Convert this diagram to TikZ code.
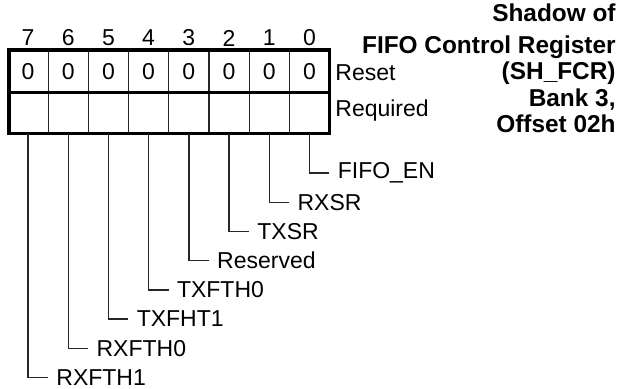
\documentclass[tikz,border=0pt]{standalone}
\usepackage{fontspec}
\setmainfont{Liberation Sans}
\usetikzlibrary{positioning}

\begin{document}
\begin{tikzpicture}[x=0.5pt,y=-0.5pt,
  font=\fontsize{11.5}{13}\selectfont,
  lead/.style={draw=black!85,line width=0.7pt},
  fld/.style={anchor=west,inner sep=4pt},
  frame/.style={line width=1.6pt}]

\useasboundingbox (0,0) rectangle (621,388);

% Bit numbers, reset values and leader feet
\foreach \i in {0,...,7} {
  \coordinate (c\i) at ({309.4-40.2*\i},0);
  \node (n\i) at ({309.4-40.2*\i},38) {\i};
  \node (r\i) at ({309.4-40.2*\i},72) {0};
  \coordinate (b\i) at ({309.4-40.2*\i},133.5);
}

% Cell dividers
\foreach \i in {1,...,7}
  \draw[line width=0.6pt,black!85] ({329.5-40.2*\i},50) -- ({329.5-40.2*\i},133.5);

% Register frame
\draw[frame] (8.9,50) rectangle (329.5,133.5);
\draw[frame] (8.9,92.5) -- (329.5,92.5);

% Row names
\node[fld,inner sep=1pt] (reset) at (333,73) {Reset};
\node[fld,inner sep=1pt] (req) at (333,111) {Required};

% Title
\node[anchor=north east,align=right,inner sep=0pt,font=\fontsize{12.2}{13.3}\selectfont\bfseries]
  (title) at (616,3.5) {Shadow of\\[2.5pt] FIFO Control Register\\(SH\_FCR)\\Bank 3,\\Offset 02h};

% Bit fields
\foreach \i/\txt in {0/FIFO\_EN,1/RXSR,2/TXSR,3/Reserved,4/TXFTH0,5/TXFHT1,6/RXFTH0,7/RXFTH1} {
  \node[fld] (l\i) at ({329.4-40.2*\i},{173+29.2*\i}) {\txt};
  \draw[lead] (b\i) |- (l\i.west);
}

\end{tikzpicture}
\end{document}
